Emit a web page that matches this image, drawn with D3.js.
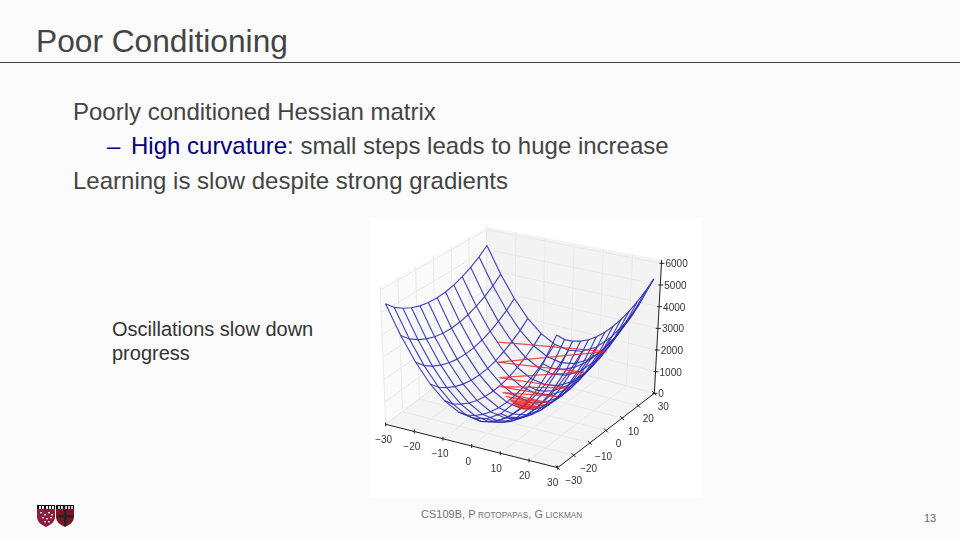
<!DOCTYPE html>
<html><head><meta charset="utf-8">
<script src="https://cdn.jsdelivr.net/npm/d3@7/dist/d3.min.js"></script>
<style>html,body{margin:0;padding:0;background:#fbfbfb}svg{display:block}text{font-family:"Liberation Sans",Arial,sans-serif}</style>
</head><body><svg id="c" width="960" height="540"></svg>
<script>
const xTicks=[-30,-20,-10,0,10,20,30];
const yTicks=[-30,-20,-10,0,10,20,30];
const zTicks=[0,1000,2000,3000,4000,5000,6000];
const meshX=[-29,-24.2,-19.4,-14.6,-9.8,-5,0,4.8,9.6,14.4,19.2,24,28.5];
const meshY=[-29,-24.2,-19.4,-14.6,-9.8,-5,0,4.8,9.6,14.4,19.2,24,28.5];
const heightAlongX=[4230,2938,1880,1058,470,118,0,118,470,1058,1880,2938,4230];
const heightAlongY=[1140,750,480,270,120,30,0,30,120,270,480,750,1080];
const pathX=[-16.9,22.6,-14.1,17,-11.5,13.7,-9.6,11.3,-8,9.2,-6.6,7.5,-5.4,6,-4.4,5,-3.6,4,-3,3.2,-2.4,2.6,-2,2,-1.6,1.6,-1.2,1.3,-1,1,-0.8,0.8,-0.6,0.6,-0.4,0.4,-0.2,0.2];
const pathY=[15,12,10,8.5,6.5,5,4,3,2.6,2.3,2,1.8,1.6,1.4,1.3,1.1,1,0.9,0.8,0.7,0.6,0.5,0.5,0.4,0.4,0.3,0.3,0.2,0.2,0.2,0.1,0.1,0.1,0.1,0,0,0,0];
const pathZ=[1680,2630,1100,1720,660,1090,450,730,310,400,210,270,140,170,95,118,62,76,44,48,28,32,19,19,12,12,7,8,5,5,3,3,2,2,1,1,0,0];
const titleText="Poor Conditioning";
const bodyLines=["Poorly conditioned Hessian matrix","Learning is slow despite strong gradients"];
const subLead="High curvature", subRest=": small steps leads to huge increase";
const noteLines=["Oscillations slow down","progress"];
const pageNo="13";

const svg=d3.select("#c");
const defs=svg.append("defs");
defs.append("filter").attr("id","soft").append("feGaussianBlur").attr("stdDeviation",0.35);

// slide text
svg.append("text").attr("x",36).attr("y",52).attr("font-size",31.7).attr("fill","#444").text(titleText);
svg.append("line").attr("x1",0).attr("x2",960).attr("y1",62.5).attr("y2",62.5).attr("stroke","#444").attr("stroke-width",1);
svg.append("text").attr("x",73).attr("y",119.5).attr("font-size",24).attr("fill","#444").text(bodyLines[0]);
svg.append("text").attr("x",107).attr("y",154).attr("font-size",24).attr("fill","#000080").text("–");
const sub=svg.append("text").attr("x",131).attr("y",154).attr("font-size",24).attr("fill","#444");
sub.append("tspan").attr("fill","#000080").text(subLead);
sub.append("tspan").text(subRest);
svg.append("text").attr("x",73).attr("y",188.5).attr("font-size",24).attr("fill","#444").text(bodyLines[1]);
noteLines.forEach((t,i)=>svg.append("text").attr("x",112).attr("y",336+i*24).attr("font-size",20).attr("fill","#333").text(t));

// figure
svg.append("rect").attr("x",369).attr("y",218).attr("width",334).attr("height",280).attr("fill","#fff");
const g=svg.append("g").attr("filter","url(#soft)");
const sx=d3.scaleLinear().domain([-30,30]).range([0,1]);
const sy=d3.scaleLinear().domain([-30,30]).range([0,1]);
const sz=d3.scaleLinear().domain([0,6155]).range([0,1]);
const px=([a,b])=>[365+a/3,215+b/3];
const box={
 f00:px([62,628]),f10:px([578,758]),f11:px([868,535]),f01:px([365,400]),
 t00:px([45,215]),t10:px([584,308]),t11:px([890,135]),t01:px([365,35])};
const mix=(p,q,t)=>[p[0]+(q[0]-p[0])*t,p[1]+(q[1]-p[1])*t];
function proj(x,y,z){const u=sx(x),v=sy(y),w=sz(z);
 const f=mix(mix(box.f00,box.f10,u),mix(box.f01,box.f11,u),v);
 const t=mix(mix(box.t00,box.t10,u),mix(box.t01,box.t11,u),v);
 return mix(f,t,w);}
const zTop=sz.domain()[1];
const poly=pts=>"M"+pts.map(p=>p.join(",")).join("L")+"Z";
const line=d3.line();
// panes
g.append("path").attr("d",poly([proj(-30,-30,0),proj(30,-30,0),proj(30,30,0),proj(-30,30,0)])).attr("fill","#f4f4f4");
g.append("path").attr("d",poly([proj(-30,-30,0),proj(-30,30,0),proj(-30,30,zTop),proj(-30,-30,zTop)])).attr("fill","#fafafa");
g.append("path").attr("d",poly([proj(-30,30,0),proj(30,30,0),proj(30,30,zTop),proj(-30,30,zTop)])).attr("fill","#f3f3f3");
// grid
const gl=(a,b)=>g.append("path").attr("d",line([a,b])).attr("fill","none").attr("stroke","#e8e8e8").attr("stroke-width",0.9);
xTicks.forEach(x=>{gl(proj(x,-30,0),proj(x,30,0));gl(proj(x,30,0),proj(x,30,zTop));});
yTicks.forEach(y=>{gl(proj(-30,y,0),proj(30,y,0));gl(proj(-30,y,0),proj(-30,y,zTop));});
zTicks.forEach(z=>{gl(proj(-30,-30,z),proj(-30,30,z));gl(proj(-30,30,z),proj(30,30,z));});
// axes
const ax=(a,b)=>g.append("path").attr("d",line([a,b])).attr("fill","none").attr("stroke","#222").attr("stroke-width",1);
ax(proj(-30,-30,0),proj(30,-30,0));ax(proj(30,-30,0),proj(30,30,0));ax(proj(30,30,0),proj(30,30,zTop));
const fmt=v=>String(v).replace("-","\u2212");
const lab=(p,t,anchor)=>g.append("text").attr("x",p[0]).attr("y",p[1]).attr("font-size",10).attr("fill","#333").attr("text-anchor",anchor||"middle").attr("dominant-baseline","middle").text(t);
const yLabDx=d3.scaleLinear().domain([-30,30]).range([16,9]);
const xLabDx=d3.scaleLinear().domain([-30,30]).range([-2,-5]);
xTicks.forEach(x=>{const p=proj(x,-30,0);ax([p[0],p[1]-2],[p[0],p[1]+2]);lab([p[0]+xLabDx(x),p[1]+16],fmt(x));});
yTicks.forEach(y=>{const p=proj(30,y,0);ax([p[0]-2,p[1]-2],[p[0]+2,p[1]+2]);lab([p[0]+yLabDx(y),p[1]+14],fmt(y));});
zTicks.forEach(z=>{const p=proj(30,30,z);ax([p[0]-2,p[1]],[p[0]+3,p[1]]);lab([p[0]+4,p[1]+1.5],fmt(z),"start");});
// mesh
const mesh=g.append("g").attr("fill","none").attr("stroke","#2c2cb4").attr("stroke-width",1.15).attr("stroke-opacity",0.88);
meshY.forEach((y,j)=>mesh.append("path").attr("d",line(meshX.map((x,i)=>proj(x,y,heightAlongX[i]+heightAlongY[j])))));
meshX.forEach((x,i)=>mesh.append("path").attr("d",line(meshY.map((y,j)=>proj(x,y,heightAlongX[i]+heightAlongY[j])))));
// path
g.append("path").attr("d",line(pathX.map((x,i)=>proj(x,pathY[i],pathZ[i])))).attr("fill","none").attr("stroke","#ee2222").attr("stroke-width",1.25).attr("stroke-opacity",0.8);

// footer
const ft=svg.append("text").attr("x",421).attr("y",518).attr("font-size",10.9).attr("fill","#707070").attr("letter-spacing",0.08);
[["CS109B, P",10.9],[" ROTOPAPAS",8.2],[", G",10.9],[" LICKMAN",8.2]].forEach(d=>ft.append("tspan").attr("font-size",d[1]).attr("xml:space","preserve").text(d[0]));
svg.append("text").attr("x",924).attr("y",522).attr("font-size",11).attr("fill","#666").attr("font-family","Open Sans").text(pageNo);

// logo
const lg=svg.append("g");
const shield=(x,fill)=>lg.append("path").attr("d",`M${x},509 h18 v8 q0,6 -9,10 q-9,-4 -9,-10 Z`).attr("fill",fill);
lg.append("rect").attr("x",37).attr("y",505).attr("width",18).attr("height",5).attr("fill","#111");
lg.append("rect").attr("x",56).attr("y",505).attr("width",18).attr("height",5).attr("fill","#111");
shield(37,"#8e1c3e");shield(56,"#7a1526");
[39,42,46,49,52].forEach(x=>lg.append("rect").attr("x",x).attr("y",506).attr("width",2).attr("height",3).attr("fill","#eee"));
[58,61,65,68,71].forEach(x=>lg.append("rect").attr("x",x).attr("y",506).attr("width",2).attr("height",3).attr("fill","#ccc"));
[[40,512],[44,514],[48,512],[51,514],[42,517],[46,518],[50,517],[44,521],[48,521]].forEach(p=>lg.append("rect").attr("x",p[0]).attr("y",p[1]).attr("width",2).attr("height",1.4).attr("fill","#f3d5dc"));
lg.append("rect").attr("x",64).attr("y",510).attr("width",2.5).attr("height",16).attr("fill","#222");
lg.append("rect").attr("x",57).attr("y",515).attr("width",16).attr("height",2.5).attr("fill","#222");
</script></body></html>
